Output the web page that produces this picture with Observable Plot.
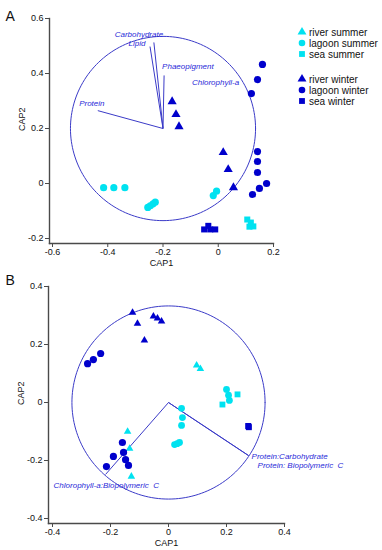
<!DOCTYPE html>
<html><head><meta charset="utf-8">
<script src="https://cdn.jsdelivr.net/npm/d3@7"></script>
<script src="https://cdn.jsdelivr.net/npm/@observablehq/plot@0.6"></script>
<style>
body{margin:0;background:#fff;font-family:"Liberation Sans",Arial,sans-serif;}
#wrap{position:relative;width:382px;height:550px;overflow:hidden;}
#wrap > svg{display:block}
#legend{position:absolute;left:0;top:0;}
</style></head><body><div id="wrap"></div>
<script>
// ---------- Panel A data ----------
const ticksAx = [-0.6, -0.4, -0.2, 0, 0.2];
const ticksAy = [-0.2, 0, 0.2, 0.4, 0.6];
const riverSummerA = [];
const lagoonSummerA = [[-0.415,-0.015],[-0.378,-0.015],[-0.338,-0.015],[-0.255,-0.087],[-0.246,-0.081],[-0.236,-0.074],[-0.228,-0.068],[-0.018,-0.044],[-0.006,-0.028]];
const seaSummerA = [[0.105,-0.131],[0.118,-0.142],[0.127,-0.156],[0.113,-0.157]];
const riverWinterA = [[-0.167,0.298],[-0.153,0.251],[-0.142,0.207],[0.018,0.113],[0.036,0.051],[0.055,-0.015]];
const lagoonWinterA = [[0.16,0.433],[0.142,0.378],[0.12,0.327],[0.142,0.116],[0.142,0.08],[0.142,0.04],[0.175,0.0],[0.149,-0.018],[0.124,-0.04]];
const seaWinterA = [[-0.051,-0.167],[-0.036,-0.154],[-0.029,-0.167],[-0.011,-0.167]];
const circleA = {cx:-0.2, cy:0.2, r:0.335};
const vectorsA = [
  {label:"Protein", x:-0.436, y:0.265},
  {label:"Carbohydrate", x:-0.233, y:0.513},
  {label:"Lipid", x:-0.247, y:0.498},
  {label:"Phaeopigment", x:-0.196, y:0.393}
];
const labelOnlyA = [{label:"Chlorophyll-a", x:-0.095, y:0.367}];

// ---------- Panel B data ----------
const ticksBx = [-0.4, -0.2, 0, 0.2, 0.4];
const ticksBy = [-0.4, -0.2, 0, 0.2, 0.4];
const riverSummerB = [[-0.141,-0.1],[-0.134,-0.159],[-0.128,-0.255],[0.097,0.128],[0.11,0.116]];
const lagoonSummerB = [[0.045,-0.02],[0.048,-0.052],[0.045,-0.079],[0.021,-0.145],[0.03,-0.142],[0.038,-0.138],[0.2,0.045],[0.207,0.025],[0.21,0.007]];
const seaSummerB = [[0.238,0.028],[0.186,-0.007]];
const riverWinterB = [[-0.124,0.31],[-0.107,0.272],[-0.083,0.214],[-0.052,0.297],[-0.038,0.29],[-0.024,0.28]];
const lagoonWinterB = [[-0.279,0.134],[-0.259,0.148],[-0.234,0.169],[-0.159,-0.138],[-0.19,-0.186],[-0.155,-0.172],[-0.148,-0.197],[-0.138,-0.217],[-0.214,-0.221]];
const seaWinterB = [[0.275,-0.081],[0.277,-0.085]];
const circleB = {cx:0, cy:0, r:0.333};
const vectorsB = [
  {label:"Chlorophyll-a:Biopolymeric\u00a0 C", x:-0.217, y:-0.248},
  {label:"Protein:Carbohydrate", x:0.276, y:-0.183},
  {label:"Protein: Biopolymeric\u00a0 C", x:0.276, y:-0.183}
];

// ---------- styles ----------
const CYAN = "#00e2f0", BLUE = "#0000cc", LINE = "#3b3bc8", LAB = "#2a2ad8", AX = "#4a4a4a";
const FONT = "'Liberation Sans', Arial, sans-serif";

function ring(c){
  return d3.range(0, 361, 2).map(a => ({x: c.cx + c.r*Math.cos(a*Math.PI/180), y: c.cy + c.r*Math.sin(a*Math.PI/180)}));
}
function pts(arr){ return arr.map(([x,y]) => ({x,y})); }

function symbols(groups){
  return groups.map(g => Plot.dot(pts(g.data), {x:"x", y:"y", symbol:g.symbol, r:g.r, fill:g.color, stroke:"none"}));
}

function panel(cfg){
  return Plot.plot({
    width: 382, height: cfg.height,
    marginLeft: cfg.ml, marginRight: cfg.mr, marginTop: cfg.mt, marginBottom: cfg.mb,
    style: {fontFamily: FONT, background: "white", overflow: "visible"},
    x: {domain: cfg.xd, range: cfg.xr},
    y: {domain: cfg.yd, range: cfg.yr},
    marks: [
      Plot.frame({anchor:"bottom", stroke:AX, strokeWidth:1.4}),
      Plot.frame({anchor:"left", stroke:AX, strokeWidth:1.4}),
      Plot.axisX(cfg.tx, {anchor:"bottom", tickSize:4, tickPadding:1, tickFormat:d=>String(d), fontSize:9, stroke:AX, fill:"#111", label:null}),
      Plot.axisY(cfg.ty, {anchor:"left", tickSize:4, tickPadding:2, tickFormat:d=>String(d), fontSize:9, stroke:AX, fill:"#111", label:null}),
      Plot.text(["CAP1"], {frameAnchor:"bottom", dy:22, fontSize:9, fill:"#111"}),
      Plot.text(["CAP2"], {frameAnchor:"left", dx:-27, rotate:-90, fontSize:9, fill:"#111"}),
      Plot.text([cfg.tag], {frameAnchor:"top-left", dx:cfg.tagDx, dy:cfg.tagDy, fontSize:14, textAnchor:"start", fill:"#111"}),
      Plot.line(ring(cfg.circle), {x:"x", y:"y", stroke:LINE, strokeWidth:1}),
      Plot.link(cfg.vectors, {x1:()=>cfg.circle.cx, y1:()=>cfg.circle.cy, x2:"x", y2:"y", stroke:LINE, strokeWidth:1}),
      ...cfg.vectors.map((v,i) => Plot.text([v], {x:"x", y:"y", text:"label", fill:LAB, fontSize:8, fontStyle:"italic", ...cfg.labelStyle[i]})),
      ...(cfg.extraLabels||[]).map(v => Plot.text([v], {x:"x", y:"y", text:"label", fill:LAB, fontSize:8, fontStyle:"italic", textAnchor:"start"})),
      ...symbols(cfg.groups)
    ]
  });
}

const wrap = document.getElementById("wrap");

const plotA = panel({
  height: 270, ml: 49, mr: 109, mt: 18, mb: 27,
  xd: [-0.6, 0.2], xr: [52, 273], yd: [-0.2, 0.6], yr: [238, 18],
  tx: ticksAx, ty: ticksAy, tag: "A", tagDx: -44, tagDy: -7,
  circle: circleA, vectors: vectorsA,
  labelStyle: [
    {dx:-6, dy:-7, textAnchor:"middle"},
    {dx:-15, dy:-8, textAnchor:"middle"},
    {dx:-13, dy:-3, textAnchor:"middle"},
    {dx:-2, dy:-9, textAnchor:"start"}
  ],
  extraLabels: labelOnlyA,
  groups: [
    {data: lagoonSummerA, symbol:"circle", r:3.6, color:CYAN},
    {data: seaSummerA, symbol:"square", r:3.4, color:CYAN},
    {data: riverSummerA, symbol:"triangle", r:3, color:CYAN},
    {data: riverWinterA, symbol:"triangle", r:3.4, color:BLUE},
    {data: lagoonWinterA, symbol:"circle", r:3.6, color:BLUE},
    {data: seaWinterA, symbol:"square", r:3.4, color:BLUE}
  ]
});
wrap.appendChild(plotA);

const plotB = panel({
  height: 280, ml: 48, mr: 98, mt: 16, mb: 27,
  xd: [-0.4, 0.4], xr: [52, 284], yd: [-0.4, 0.4], yr: [248, 16],
  tx: ticksBx, ty: ticksBy, tag: "B", tagDx: -43, tagDy: -11,
  circle: circleB, vectors: vectorsB,
  labelStyle: [
    {dx:-52, dy:11, textAnchor:"start"},
    {dx:3, dy:1, textAnchor:"start"},
    {dx:9, dy:10, textAnchor:"start"}
  ],
  groups: [
    {data: lagoonSummerB, symbol:"circle", r:3.4, color:CYAN},
    {data: seaSummerB, symbol:"square", r:3.3, color:CYAN},
    {data: riverSummerB, symbol:"triangle", r:2.8, color:CYAN},
    {data: riverWinterB, symbol:"triangle", r:2.8, color:BLUE},
    {data: lagoonWinterB, symbol:"circle", r:3.6, color:BLUE},
    {data: seaWinterB, symbol:"square", r:3.4, color:BLUE}
  ]
});
wrap.appendChild(plotB);

// ---------- legend ----------
const legendItems = [
  {label:"river summer", symbol:d3.symbolTriangle, color:CYAN},
  {label:"lagoon summer", symbol:d3.symbolCircle, color:CYAN},
  {label:"sea summer", symbol:d3.symbolSquare, color:CYAN},
  {label:"river winter", symbol:d3.symbolTriangle, color:BLUE},
  {label:"lagoon winter", symbol:d3.symbolCircle, color:BLUE},
  {label:"sea winter", symbol:d3.symbolSquare, color:BLUE}
];
const leg = d3.select(wrap).append("svg").attr("id","legend").attr("width",382).attr("height",120)
  .style("font-family", FONT);
legendItems.forEach((d,i) => {
  const y = 32 + i*11 + (i >= 3 ? 14 : 0);
  leg.append("path").attr("transform", `translate(302,${y})`)
    .attr("d", d3.symbol(d.symbol, 34)()).attr("fill", d.color);
  leg.append("text").attr("x", 309).attr("y", y).attr("dy","0.35em")
    .attr("font-size", 10).attr("fill","#111").text(d.label);
});
</script>
</body></html>
